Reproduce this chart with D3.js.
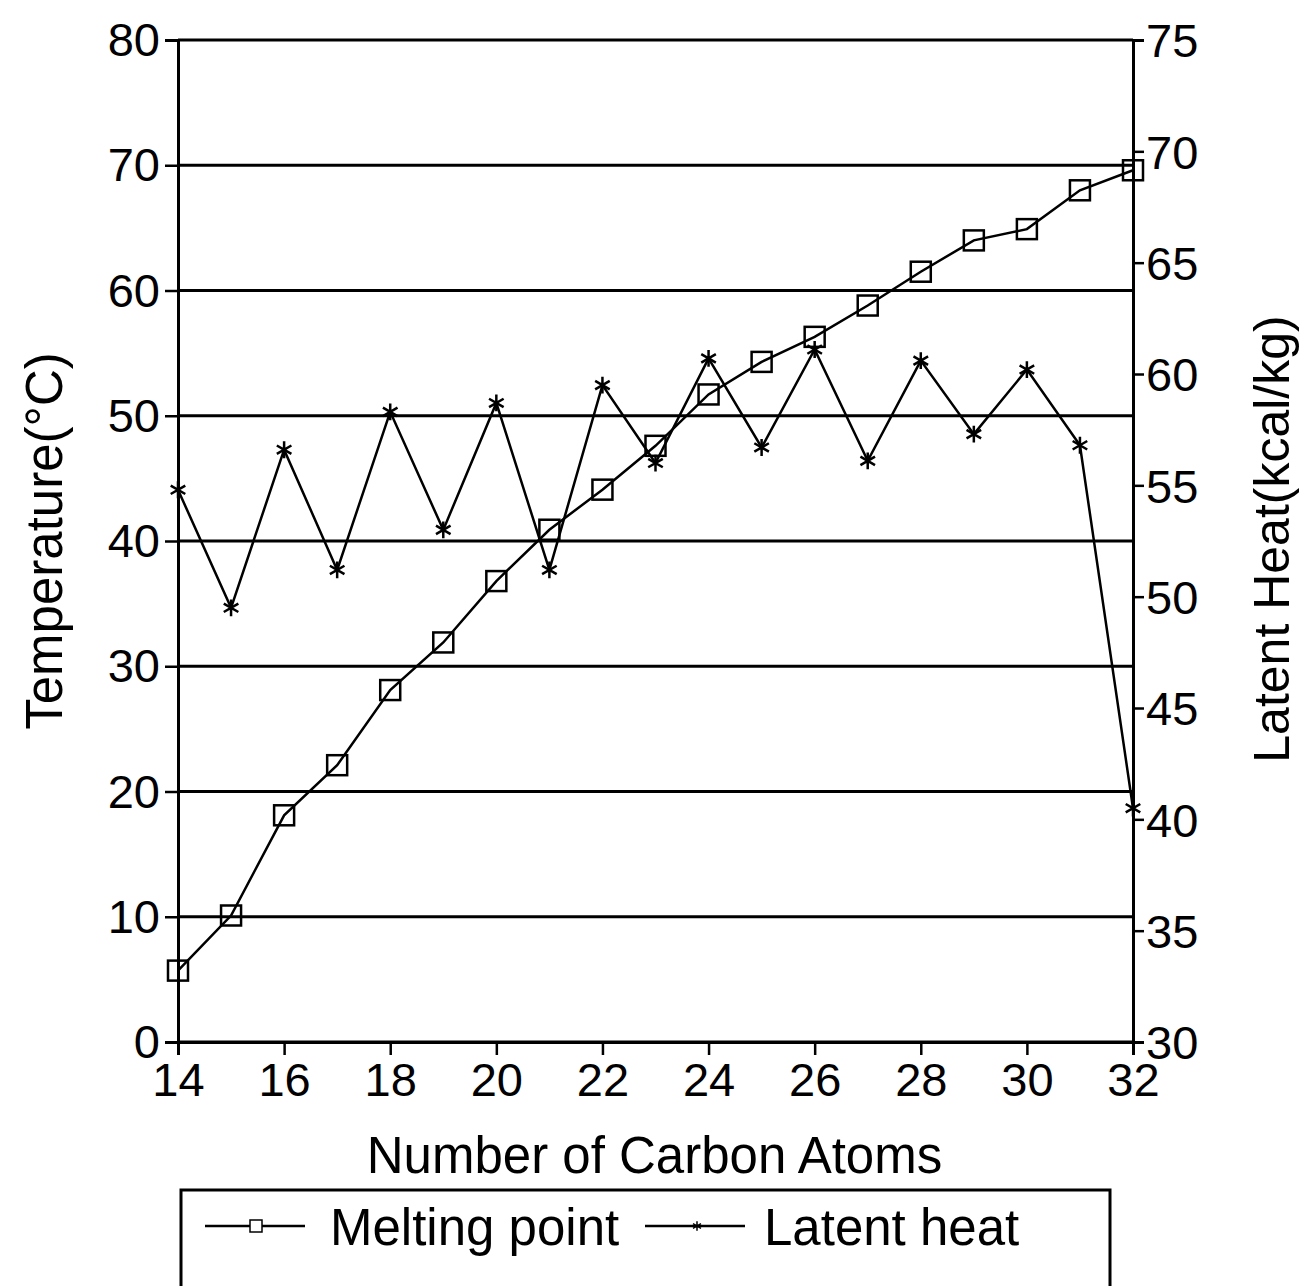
<!DOCTYPE html>
<html>
<head>
<meta charset="utf-8">
<script src="https://cdn.jsdelivr.net/npm/d3@7"></script>
<style>
  body { margin: 0; background: #fff; }
  svg text { font-family: "Liberation Sans", Arial, sans-serif; fill: #000; }
</style>
</head>
<body>
<div id="chart"></div>
<script>
// values
const carbons = [14, 15, 16, 17, 18, 19, 20, 21, 22, 23, 24, 25, 26, 27, 28, 29, 30, 31, 32];
const meltingPoint = [5.7, 10.1, 18.1, 22.1, 28.1, 31.9, 36.8, 40.9, 44.1, 47.6, 51.7, 54.3, 56.3, 58.8, 61.5, 64.0, 64.9, 68.0, 69.6];
const latentHeat = [54.8, 49.5, 56.6, 51.2, 58.3, 53.0, 58.7, 51.2, 59.5, 56.0, 60.7, 56.7, 61.1, 56.1, 60.6, 57.3, 60.2, 56.8, 40.5];
const xTicks = [14, 16, 18, 20, 22, 24, 26, 28, 30, 32];
const leftTicks = [0, 10, 20, 30, 40, 50, 60, 70, 80];
const rightTicks = [30, 35, 40, 45, 50, 55, 60, 65, 70, 75];

const width = 1302, height = 1286;
const margin = { top: 40, right: 169, bottom: 244, left: 178 };
const w = width - margin.left - margin.right;
const h = height - margin.top - margin.bottom;

const svg = d3.select("#chart").append("svg")
  .attr("width", width)
  .attr("height", height);

const g = svg.append("g").attr("transform", `translate(${margin.left},${margin.top})`);

const x = d3.scaleLinear().domain([14, 32]).range([0, w]);
const yL = d3.scaleLinear().domain([0, 80]).range([h, 0]);
const yR = d3.scaleLinear().domain([30, 75]).range([h, 0]);

// horizontal grid
g.selectAll(".grid").data(leftTicks).enter().append("line")
  .attr("x1", 0).attr("x2", w)
  .attr("y1", d => yL(d)).attr("y2", d => yL(d))
  .attr("stroke", "#000").attr("stroke-width", 3);

// axes
const axL = g.append("g").call(d3.axisLeft(yL).tickValues(leftTicks).tickSize(13).tickPadding(5));
const axR = g.append("g").attr("transform", `translate(${w},0)`)
  .call(d3.axisRight(yR).tickValues(rightTicks).tickSize(11).tickPadding(2));
const axB = g.append("g").attr("transform", `translate(0,${h})`)
  .call(d3.axisBottom(x).tickValues(xTicks).tickSize(13).tickPadding(8));

[axL, axR, axB].forEach(a => {
  a.selectAll("path").attr("stroke", "#000").attr("stroke-width", 3);
  a.selectAll("line").attr("stroke", "#000").attr("stroke-width", 2.5);
  a.selectAll("text").style("font-size", "47px").attr("fill", "#000");
});
axL.selectAll("text").attr("dy", "0.33em");
axR.selectAll("text").attr("dy", "0.36em");

// lines
const mpLine = d3.line().x((d, i) => x(carbons[i])).y(d => yL(d));
const lhLine = d3.line().x((d, i) => x(carbons[i])).y(d => yR(d));

g.append("path").datum(meltingPoint)
  .attr("d", mpLine).attr("fill", "none").attr("stroke", "#000").attr("stroke-width", 2.5);
g.append("path").datum(latentHeat)
  .attr("d", lhLine).attr("fill", "none").attr("stroke", "#000").attr("stroke-width", 2.5);

// square markers
g.selectAll(".sq").data(meltingPoint).enter().append("rect")
  .attr("x", (d, i) => x(carbons[i]) - 10)
  .attr("y", d => yL(d) - 10)
  .attr("width", 20).attr("height", 20)
  .attr("fill", "none").attr("stroke", "#000").attr("stroke-width", 2.5);

// asterisk markers
const star = d3.symbol().type(d3.symbolAsterisk).size(200);
g.selectAll(".st").data(latentHeat).enter().append("path")
  .attr("d", star)
  .attr("transform", (d, i) => `translate(${x(carbons[i])},${yR(d)})`)
  .attr("fill", "none").attr("stroke", "#000").attr("stroke-width", 2.5);

// axis titles
g.append("text")
  .attr("x", w / 2 - 1).attr("y", h + 131)
  .attr("text-anchor", "middle").style("font-size", "51px")
  .text("Number of Carbon Atoms");

svg.append("text")
  .attr("transform", `translate(62,${margin.top + h / 2}) rotate(-90)`)
  .attr("text-anchor", "middle").style("font-size", "51px")
  .text("Temperature(°C)");

svg.append("text")
  .attr("transform", `translate(1289,${margin.top + h / 2 - 2}) rotate(-90)`)
  .attr("text-anchor", "middle").style("font-size", "50px")
  .text("Latent Heat(kcal/kg)");

// legend
const leg = svg.append("g");
leg.append("rect")
  .attr("x", 181).attr("y", 1190).attr("width", 929).attr("height", 120)
  .attr("fill", "none").attr("stroke", "#000").attr("stroke-width", 3);

const legendItems = [
  { label: "Melting point", x0: 205, tx: 330, marker: "square" },
  { label: "Latent heat", x0: 645, tx: 764, marker: "star" }
];
legendItems.forEach(it => {
  leg.append("line")
    .attr("x1", it.x0).attr("x2", it.x0 + 100)
    .attr("y1", 1226).attr("y2", 1226)
    .attr("stroke", "#000").attr("stroke-width", 2.5);
  if (it.marker === "square") {
    leg.append("rect").attr("x", it.x0 + 45).attr("y", 1220).attr("width", 12).attr("height", 12)
      .attr("fill", "#fff").attr("stroke", "#000").attr("stroke-width", 1.5);
  } else {
    leg.append("path").attr("d", d3.symbol().type(d3.symbolAsterisk).size(60)())
      .attr("transform", `translate(${it.x0 + 52},1226)`)
      .attr("fill", "none").attr("stroke", "#000").attr("stroke-width", 1.5);
  }
  leg.append("text").attr("x", it.tx).attr("y", 1245)
    .style("font-size", "51px").text(it.label);
});
</script>
</body>
</html>
